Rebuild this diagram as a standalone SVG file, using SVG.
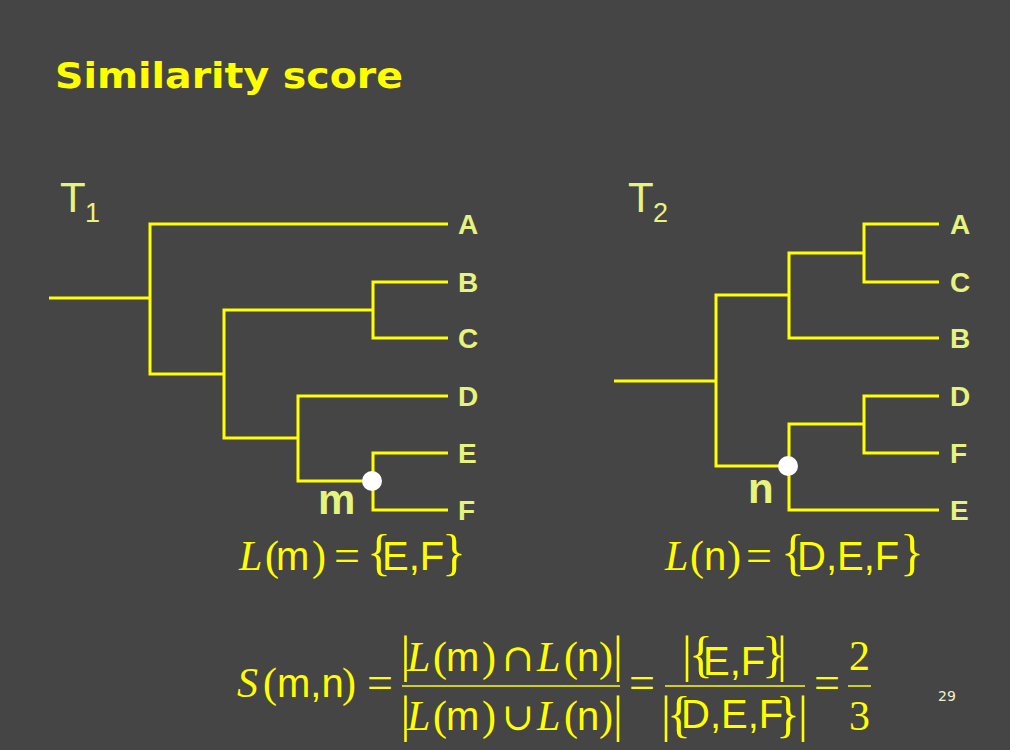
<svg xmlns="http://www.w3.org/2000/svg" width="1010" height="750" viewBox="0 0 1010 750">
<style>
.bg{fill:#454545}
.title{font-family:"DejaVu Sans",Verdana,sans-serif;font-weight:bold;font-size:35px;fill:#ffff00}
.edge{fill:none;stroke:#ffff00;stroke-width:3;stroke-linecap:butt;stroke-linejoin:miter}
.leaf{font-family:"Liberation Sans",Arial,sans-serif;font-weight:bold;font-size:28px;fill:#e6f47e}
.tl{font-family:"Liberation Sans",Arial,sans-serif;font-size:42px;fill:#e6f47e}
.sub{font-family:"Liberation Sans",Arial,sans-serif;font-size:27px;fill:#e6f47e}
.nl{font-family:"Liberation Sans",Arial,sans-serif;font-weight:bold;font-size:42px;fill:#e6f47e}
.dot{fill:#ffffff}
.it{font-family:"Liberation Serif","Times New Roman",serif;font-style:italic;font-size:42px;fill:#ffff00}
.sf{font-family:"Liberation Sans",Arial,sans-serif;font-size:40px;fill:#ffff00}
.sr{font-family:"Liberation Serif","Times New Roman",serif;font-size:42px;fill:#ffff00}
.eq{font-family:"Liberation Serif","Times New Roman",serif;font-size:46px;fill:#ffff00}
.br{font-family:"Liberation Serif","Times New Roman",serif;font-size:50px;fill:#ffff00}
.bar{font-family:"Liberation Serif","Times New Roman",serif;font-size:50px;fill:#ffff00;text-anchor:middle}
.op{font-family:"DejaVu Serif",serif;font-size:38px;fill:#ffff00}
.fb{stroke:#ffff00;stroke-width:1.5}
.pg{font-family:"DejaVu Sans",Verdana,sans-serif;font-size:14px;fill:#f2f0c8}
</style>
<rect class="bg" x="0" y="0" width="1010" height="750"/>
<text class="title" x="55" y="88" textLength="348" lengthAdjust="spacingAndGlyphs">Similarity score</text>

<!-- Tree 1 -->
<g id="tree1-label"><text class="tl" x="60" y="212">T</text><text class="sub" x="85" y="222">1</text></g>
<g id="tree1-connectors">
<path class="edge" d="M49,298 H150"/>
<path class="edge" d="M448,224 H150 V374 H224"/>
<path class="edge" d="M448,282 H373 V338 H448"/>
<path class="edge" d="M373,310 H224 V438 H298"/>
<path class="edge" d="M448,396 H298 V481 H373"/>
<path class="edge" d="M448,453 H373 V510 H448"/>
</g>
<g id="t1-A"><text class="leaf" x="458" y="234">A</text></g>
<g id="t1-B"><text class="leaf" x="458" y="292">B</text></g>
<g id="t1-C"><text class="leaf" x="458" y="348">C</text></g>
<g id="t1-D"><text class="leaf" x="458" y="406">D</text></g>
<g id="t1-E"><text class="leaf" x="458" y="463">E</text></g>
<g id="t1-F"><text class="leaf" x="458" y="520">F</text></g>
<g id="t1-m"><circle class="dot" cx="372" cy="481" r="10"/><text class="nl" x="318" y="514">m</text></g>

<!-- Tree 2 -->
<g id="tree2-label"><text class="tl" x="628" y="212">T</text><text class="sub" x="653" y="222">2</text></g>
<g id="tree2-connectors">
<path class="edge" d="M614,381 H716"/>
<path class="edge" d="M789,295 H716 V466 H789"/>
<path class="edge" d="M864,253 H789 V338 H939"/>
<path class="edge" d="M939,224 H864 V282 H939"/>
<path class="edge" d="M864,424 H789 V510 H939"/>
<path class="edge" d="M939,396 H864 V453 H939"/>
</g>
<g id="t2-A"><text class="leaf" x="950" y="234">A</text></g>
<g id="t2-C"><text class="leaf" x="950" y="292">C</text></g>
<g id="t2-B"><text class="leaf" x="950" y="348">B</text></g>
<g id="t2-D"><text class="leaf" x="950" y="406">D</text></g>
<g id="t2-F"><text class="leaf" x="950" y="463">F</text></g>
<g id="t2-E"><text class="leaf" x="950" y="520">E</text></g>
<g id="t2-n"><circle class="dot" cx="788" cy="466" r="10"/><text class="nl" x="748" y="503">n</text></g>

<!-- L(m) -->
<g id="Lm">
<text class="it" x="239" y="570">L</text>
<text class="sr" x="265" y="570">(</text>
<text class="sf" x="276" y="570">m</text>
<text class="sr" x="312" y="570">)</text>
<text class="eq" x="334" y="571">=</text>
<text class="br" x="367" y="569">{</text>
<text class="sf" x="382" y="570">E,F</text>
<text class="br" x="442" y="569">}</text>
</g>
<!-- L(n) -->
<g id="Ln">
<text class="it" x="665" y="570">L</text>
<text class="sr" x="690" y="570">(</text>
<text class="sf" x="704" y="570">n</text>
<text class="sr" x="727" y="570">)</text>
<text class="eq" x="746" y="571">=</text>
<text class="br" x="781" y="569">{</text>
<text class="sf" x="797" y="570">D,E,F</text>
<text class="br" x="900" y="569">}</text>
</g>

<!-- S(m,n) formula -->
<g id="formula">
<text class="it" x="237" y="697">S</text>
<text class="sr" x="263" y="697">(</text>
<text class="sf" x="277" y="697">m,n</text>
<text class="sr" x="342" y="697">)</text>
<text class="eq" x="367" y="698">=</text>

<line class="fb" x1="402" y1="686" x2="620" y2="686"/>
<text class="bar" x="405.5" y="671">|</text>
<text class="it" x="407" y="671">L</text>
<text class="sr" x="433" y="671">(</text>
<text class="sf" x="446" y="671">m</text>
<text class="sr" x="482" y="671">)</text>
<text class="op" x="502" y="671">∩</text>
<text class="it" x="537" y="671">L</text>
<text class="sr" x="564" y="671">(</text>
<text class="sf" x="577" y="671">n</text>
<text class="sr" x="599" y="671">)</text>
<text class="bar" x="618" y="671">|</text>

<text class="bar" x="405.5" y="731">|</text>
<text class="it" x="407" y="730">L</text>
<text class="sr" x="433" y="730">(</text>
<text class="sf" x="446" y="730">m</text>
<text class="sr" x="482" y="730">)</text>
<text class="op" x="502" y="730">∪</text>
<text class="it" x="537" y="730">L</text>
<text class="sr" x="564" y="730">(</text>
<text class="sf" x="577" y="730">n</text>
<text class="sr" x="599" y="730">)</text>
<text class="bar" x="618" y="731">|</text>

<text class="eq" x="629" y="698">=</text>

<line class="fb" x1="665" y1="686" x2="805" y2="686"/>
<text class="bar" x="687" y="671">|</text>
<text class="br" x="689" y="671">{</text>
<text class="sf" x="703" y="675">E,F</text>
<text class="br" x="762" y="671">}</text>
<text class="bar" x="782" y="671">|</text>

<text class="bar" x="666" y="731">|</text>
<text class="br" x="667" y="731">{</text>
<text class="sf" x="681" y="728">D,E,F</text>
<text class="br" x="776" y="731">}</text>
<text class="bar" x="803" y="731">|</text>

<text class="eq" x="814" y="698">=</text>
<line class="fb" x1="848" y1="686" x2="871" y2="686"/>
<text class="sr" x="859.5" y="670" text-anchor="middle">2</text>
<text class="sr" x="859.5" y="730" text-anchor="middle">3</text>
</g>

<text class="pg" x="938" y="701">29</text>
</svg>
